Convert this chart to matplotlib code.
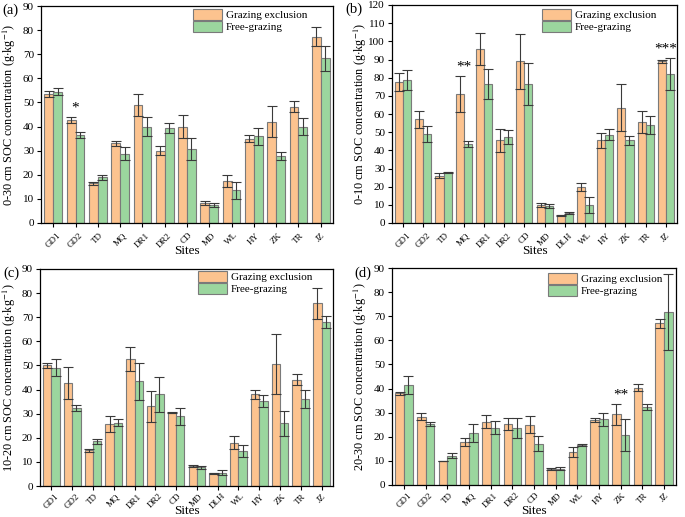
import numpy as np
import matplotlib.pyplot as plt

plt.rcParams['font.family'] = ['Liberation Serif', 'DejaVu Serif']
plt.rcParams['mathtext.fontset'] = 'stix'

sites13 = ["GD1", "GD2", "TD", "MQ", "DR1", "DR2", "CD", "MD", "WL", "HY", "ZK", "TR", "JZ"]
sites14 = ["GD1", "GD2", "TD", "MQ", "DR1", "DR2", "CD", "MD", "DLH", "WL", "HY", "ZK", "TR", "JZ"]

# (a) 0-30 cm
a_ge = [53.5, 42.8, 16.5, 33.0, 49.0, 30.0, 40.0, 8.3, 17.5, 35.0, 42.0, 48.2, 77.3]
a_ge_err = [1.3, 1.3, 0.7, 1.2, 4.5, 1.8, 4.8, 0.8, 2.5, 1.5, 6.5, 2.2, 4.0]
a_fg = [54.5, 36.5, 19.0, 28.8, 40.0, 39.3, 30.8, 7.5, 13.5, 36.0, 27.8, 40.0, 68.3]
a_fg_err = [1.5, 1.4, 1.0, 2.7, 4.0, 2.0, 4.6, 0.9, 3.5, 3.5, 1.8, 3.7, 5.3]

# (b) 0-10 cm
b_ge = [77.5, 57.0, 26.0, 71.0, 96.0, 45.5, 89.0, 10.0, 4.2, 19.8, 45.5, 63.5, 55.8, 89.0]
b_ge_err = [4.8, 4.7, 1.5, 9.8, 8.8, 6.5, 15.0, 1.2, 0.3, 2.0, 4.0, 13.0, 6.0, 1.0]
b_fg = [78.8, 49.0, 27.8, 43.5, 76.5, 47.5, 76.5, 9.3, 5.5, 10.0, 48.5, 45.5, 54.0, 82.0]
b_fg_err = [5.5, 4.3, 0.5, 1.8, 8.0, 3.8, 11.3, 1.0, 0.8, 4.5, 3.0, 2.5, 5.0, 8.7]

# (c) 10-20 cm
c_ge = [50.0, 42.7, 14.8, 25.8, 52.5, 33.0, 30.3, 8.3, 5.2, 18.0, 38.0, 50.5, 44.0, 75.7]
c_ge_err = [1.2, 6.7, 0.5, 3.4, 5.0, 6.6, 0.2, 0.5, 0.3, 2.7, 2.0, 12.5, 2.3, 6.5]
c_fg = [49.0, 32.5, 18.5, 26.2, 43.5, 38.0, 29.0, 7.8, 5.5, 14.5, 35.3, 26.0, 36.0, 68.2]
c_fg_err = [3.5, 1.3, 1.0, 1.5, 7.7, 7.3, 3.5, 0.6, 1.1, 2.5, 2.6, 5.3, 3.7, 2.5]

# (d) 20-30 cm
d_ge = [38.0, 28.3, 10.0, 17.8, 26.3, 25.3, 25.0, 6.7, 13.7, 27.0, 29.3, 40.3, 67.0]
d_ge_err = [0.5, 1.5, 0.1, 1.5, 2.6, 2.3, 3.6, 0.4, 2.2, 0.7, 4.3, 1.5, 2.0]
d_fg = [41.5, 25.3, 12.2, 21.5, 23.8, 23.7, 17.2, 6.7, 16.7, 27.2, 20.8, 32.3, 71.8]
d_fg_err = [3.7, 0.7, 1.0, 3.8, 2.7, 4.0, 3.2, 0.6, 0.4, 2.6, 6.6, 1.3, 15.8]

ge_color = "#FCC38F"
fg_color = "#9BD69E"
edge = "#7a7a7a"

panels = [
    ("(a)", sites13, a_ge, a_ge_err, a_fg, a_fg_err, 90, "0-30 cm", [("GD2", "*")]),
    ("(b)", sites14, b_ge, b_ge_err, b_fg, b_fg_err, 120, "0-10 cm", [("MQ", "**"), ("JZ", "***")]),
    ("(c)", sites14, c_ge, c_ge_err, c_fg, c_fg_err, 90, "10-20 cm", []),
    ("(d)", sites13, d_ge, d_ge_err, d_fg, d_fg_err, 90, "20-30 cm", [("ZK", "**")]),
]

# layout in pixels: axes box (left, top, right, bottom), tag position, legend corner,
# ylabel right edge, "Sites" top, tick label pad
boxes = [(41, 6, 333, 223), (392, 5, 677, 223), (40, 269, 333, 486), (392, 268, 676, 485)]
tags = [(2, 10), (345, 9), (3, 273), (354, 273)]
legs = [(307, 9), (656, 9), (312, 271), (662, 273)]
ylab_x = [18, 369, 18, 369]
xlab_y = [245, 245, 505, 505]
tick_pad = [3, 3, 1.5, 1.5]
W, H = 685, 517

fig = plt.figure(figsize=(6.85, 5.17), dpi=100)

for i_p, (tag, sites, ge, ge_err, fg, fg_err, ymax, depth, stars) in enumerate(panels):
    l, t, r, b = boxes[i_p]
    ax = fig.add_axes([l / W, 1 - b / H, (r - l) / W, (b - t) / H])
    x = np.arange(len(sites))
    w = 0.4
    ekw = dict(ecolor="#3a3a3a", elinewidth=0.8, capsize=3.5, capthick=0.8)
    ax.bar(x - w / 2, ge, w, yerr=ge_err, color=ge_color, edgecolor=edge, linewidth=0.8,
           error_kw=ekw, label="Grazing exclusion")
    ax.bar(x + w / 2, fg, w, yerr=fg_err, color=fg_color, edgecolor=edge, linewidth=0.8,
           error_kw=ekw, label="Free-grazing")
    ax.set_xlim(-0.55, len(sites) - 0.45)
    ax.set_ylim(0, ymax)
    ax.set_yticks(np.arange(0, ymax + 1, 10))
    ax.set_xticks(x)
    ax.set_xticklabels(sites, rotation=45, fontsize=6.5, ha="center")
    ax.tick_params(axis="y", labelsize=8, direction="out", length=3, pad=2)
    ax.tick_params(axis="x", direction="out", length=3, pad=tick_pad[i_p])
    for s in ax.spines.values():
        s.set_linewidth(0.9)
    ax.set_xlabel("Sites", fontsize=9.5, va="top")
    ax.xaxis.set_label_coords(0.5, (b - xlab_y[i_p]) / (b - t))
    ax.set_ylabel(depth + " SOC concentration (g$\\cdot$kg$^{-1}$)", fontsize=8.8)
    ax.yaxis.set_label_coords((ylab_x[i_p] - l) / (r - l), 0.5)
    tx, ty = tags[i_p]
    ax.text((tx - l) / (r - l), (b - ty) / (b - t), tag, transform=ax.transAxes,
            fontsize=10.5, ha="left", va="center")
    for site, mark in stars:
        i = sites.index(site)
        top = max(ge[i] + ge_err[i], fg[i] + fg_err[i])
        ax.text(i, top + ymax * 0.012, mark, ha="center", va="bottom", fontsize=11)
    lx, ly = legs[i_p]
    ax.legend(loc="upper right", frameon=False, fontsize=8, handlelength=2.6, handleheight=1.2,
              labelspacing=0.05, handletextpad=0.3, borderaxespad=0, borderpad=0,
              bbox_to_anchor=((lx - l) / (r - l), (b - ly) / (b - t)))

fig.savefig("out.png", dpi=100)
